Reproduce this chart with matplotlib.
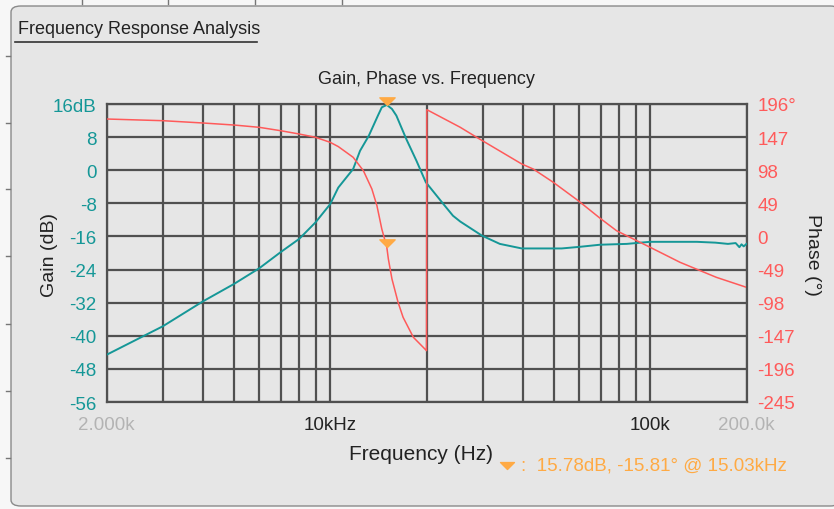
import matplotlib
matplotlib.use("Agg")
import matplotlib.pyplot as plt
from matplotlib.patches import FancyBboxPatch
from matplotlib.lines import Line2D
from matplotlib.path import Path
import numpy as np

plt.rcParams['font.family'] = ['Liberation Sans', 'DejaVu Sans']

# ---------------- data ----------------
gain_freq = [2000, 3000, 4000, 5000, 6000, 7000, 8000, 9000, 10000, 10600,
             11800, 12400, 13200, 14100, 14500, 15030, 15600, 16100, 17300,
             18600, 19900, 22600, 24200, 25500,
             29800, 33900, 39700, 52900, 60400, 69700, 84500, 99800, 140000,
             160000, 175000, 185000, 190000, 193000, 196000, 200000]
gain_db = [-44.6, -37.7, -31.7, -27.5, -23.7, -19.8, -16.6, -12.6, -8.2, -4.2,
           0.3, 4.7, 8.3, 13.2, 15.2, 15.78, 14.8, 13.2, 7.5,
           2.3, -2.9, -8.2, -11.0, -12.4,
           -15.8, -17.8, -18.9, -18.9, -18.5, -18.0, -17.8, -17.3, -17.3,
           -17.5, -17.8, -17.6, -18.6, -17.9, -18.4, -17.8]

phase_freq = [2000, 3000, 4000, 5000, 6000, 7000, 8000, 9000, 10000, 10600,
              11800, 12700, 13500, 14000, 14500, 15030, 15200, 15600, 16300,
              16900, 18200, 20000, 20050, 25500, 28700, 39700, 43100, 49800,
              59600, 69700, 78500, 88600, 100000, 124000, 161000, 200000]
phase_deg = [173.8, 171.3, 167.9, 164.9, 161.5, 156.5, 151.6, 146.7, 139.3, 133.0,
             117.1, 97.3, 70.2, 45.5, 11.0, -15.81, -33.4, -63.0, -97.5,
             -119.7, -149.3, -169.0, 187.6, 161.5, 146.7, 107.2, 99.8, 80.1,
             52.9, 27.0, 8.5, -3.8, -16.1, -38.3, -60.5, -75.3]

marker_freq = 15030
marker_gain = 15.78
marker_phase = -15.81

gain_ticks = [-56, -48, -40, -32, -24, -16, -8, 0, 8, 16]
gain_tick_labels = ['-56', '-48', '-40', '-32', '-24', '-16', '-8', '0', '8', '16dB']
phase_ticks = [-245, -196, -147, -98, -49, 0, 49, 98, 147, 196]
phase_tick_labels = ['-245', '-196', '-147', '-98', '-49', '0', '49', '98', '147', '196°']
freq_major = [2000, 10000, 100000, 200000]
freq_major_labels = ['2.000k', '10kHz', '100k', '200.0k']
freq_minor = [3000, 4000, 5000, 6000, 7000, 8000, 9000,
              20000, 30000, 40000, 50000, 60000, 70000, 80000, 90000]

# ---------------- style ----------------
W, H = 834, 510
TEAL = '#159797'
RED = '#ff5a5a'
ORANGE = '#ffaa44'
GRID = '#505050'
PANEL = '#e6e6e6'
LGRAY = '#b3b3b3'
DARK = '#222222'

fig = plt.figure(figsize=(W / 100, H / 100), dpi=100)
fig.patch.set_facecolor('#f7f7f7')

def fx(x):
    return x / W

def fy(y):
    return 1 - y / H

# panel frame
panel = FancyBboxPatch((fx(11), fy(507)), fx(840) - fx(11), fy(7) - fy(507),
                       boxstyle='round,pad=0,rounding_size=0.012',
                       transform=fig.transFigure, facecolor=PANEL,
                       edgecolor='#8a8a8a', linewidth=1.0, zorder=-10)
fig.patches.append(panel)

# small outer ticks
for x in [82, 168, 255, 342]:
    fig.add_artist(Line2D([fx(x), fx(x)], [fy(0), fy(5)], color='#777777', lw=1, zorder=-5))
for y in [57, 124, 190, 257, 325, 392, 459]:
    fig.add_artist(Line2D([fx(6), fx(10)], [fy(y), fy(y)], color='#777777', lw=1, zorder=-5))

# header
fig.text(fx(18), fy(30), 'Frequency Response Analysis', fontsize=13,
         color=DARK, va='center', ha='left')
fig.add_artist(Line2D([fx(15), fx(257)], [fy(43), fy(43)], color='#333333', lw=1.2))

# axes
L, R, T, B = 106.5, 746.5, 105, 403
ax = fig.add_axes([fx(L), fy(B), (R - L) / W, (B - T) / H])
ax.set_facecolor(PANEL)
ax.set_xscale('log')
ax.set_xlim(2000, 200000)
ax.set_ylim(-56, 16)
ax.set_xticks(freq_major)
ax.set_xticklabels(freq_major_labels)
ax.set_xticks(freq_minor, minor=True)
ax.set_xticklabels([], minor=True)
ax.set_yticks(gain_ticks)
ax.set_yticklabels(gain_tick_labels)
ax.tick_params(axis='both', which='both', length=0)
ax.tick_params(axis='y', colors=TEAL, labelsize=13.5, pad=7)
ax.tick_params(axis='x', labelsize=13.5, pad=10)
for lbl, c in zip(ax.get_xticklabels(), [LGRAY, DARK, DARK, LGRAY]):
    lbl.set_color(c)
ax.grid(True, which='both', color=GRID, lw=1.6)
ax.set_axisbelow(True)
for s in ax.spines.values():
    s.set_color(GRID)
    s.set_linewidth(1.6)

ax2 = ax.twinx()
ax2.set_ylim(-245, 196)
ax2.set_yticks(phase_ticks)
ax2.set_yticklabels(phase_tick_labels)
ax2.tick_params(axis='y', length=0, colors=RED, labelsize=13.5, pad=8)
for s in ax2.spines.values():
    s.set_visible(False)

ax.plot(gain_freq, gain_db, color=TEAL, lw=1.4, zorder=3)
ax2.plot(phase_freq, phase_deg, color=RED, lw=1.1, zorder=3)

tri = Path([(-1, 1), (1, 1), (0, 0), (-1, 1)], closed=True)
ax.plot([marker_freq], [marker_gain], marker=tri, ms=11, color=ORANGE,
        mec=ORANGE, ls='none', clip_on=False, zorder=5)
ax2.plot([marker_freq], [marker_phase], marker=tri, ms=11, color=ORANGE,
         mec=ORANGE, ls='none', clip_on=False, zorder=5)

fig.text(fx(426), fy(80), 'Gain, Phase vs. Frequency', fontsize=13,
         color=DARK, ha='center', va='center')
fig.text(fx(50), fy(255), 'Gain (dB)', fontsize=14, color=DARK,
         rotation=90, ha='center', va='center')
fig.text(fx(813), fy(255), 'Phase (°)', fontsize=14, color=DARK,
         rotation=-90, ha='center', va='center')
fig.text(fx(421), fy(455), 'Frequency (Hz)', fontsize=15, color=DARK,
         ha='center', va='center')

fig.add_artist(Line2D([fx(507)], [fy(470)], marker=tri, ms=10, color=ORANGE,
                      mec=ORANGE, ls='none'))
fig.text(fx(521), fy(466), ':  15.78dB, -15.81° @ 15.03kHz', fontsize=13.5,
         color=ORANGE, ha='left', va='center')

fig.savefig('out.png', dpi=100, facecolor=fig.get_facecolor())
